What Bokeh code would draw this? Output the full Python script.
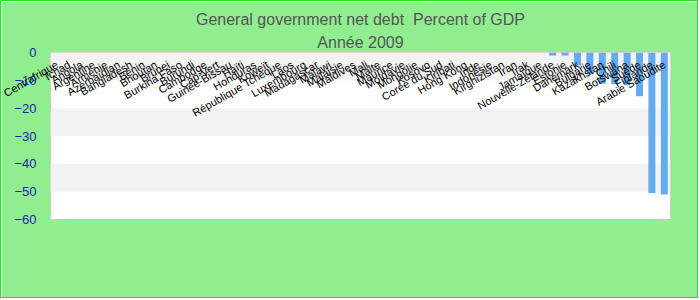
import math
from bokeh.plotting import figure
from bokeh.models import (ColumnDataSource, BoxAnnotation, Title, Range1d,
                          FixedTicker, LinearAxis)
from bokeh.embed import file_html
from bokeh.resources import INLINE

categories = [
    "Centrafrique", "Tchad", "Angola", "Argentine", "Arménie", "Azerbaïdjan",
    "Bangladesh", "Bénin", "Bhoutan", "Brunei", "Burkina Faso", "Burundi",
    "Cambodge", "Cap-Vert", "Guinée-Bissau", "Haïti", "Honduras", "Koweït",
    "République Tchèque", "Laos", "Luxembourg", "Madagascar", "Malawi",
    "Malaisie", "Maldives", "Mali", "Malte", "Maurice", "Moldavie", "Mongolie",
    "Kosovo", "Corée du Sud", "Kiribati", "Hong Kong", "Inde", "Indonésie",
    "Kirghizistan", "Iran", "Irak", "Jamaïque",
    "Nouvelle-Zélande", "Estonie", "Danemark", "Bulgarie", "Kazakhstan",
    "Chili", "Botswana", "Suède", "Finlande", "Arabie Saoudite",
]
values = [0.0] * 40 + [-1.1, -1.1, -4.7, -7.8, -11.2, -11.4, -11.8, -15.7, -50.5, -51.0]
y_ticks = [0, -10, -20, -30, -40, -50, -60]

FONT = "Liberation Sans"
n = len(categories)
positions = list(range(n))  # category index along the axis

src = ColumnDataSource(dict(pos=positions, cat=categories, val=values))

p = figure(
    x_range=Range1d(-0.5, n - 0.5),
    y_range=Range1d(-60, 0),
    width=698, height=298,
    output_backend="svg", toolbar_location=None,
    background_fill_color="white",
    border_fill_color="#90EE90",
    min_border_left=49, min_border_right=29, min_border_top=51, min_border_bottom=80,
    outline_line_color="#cccccc",
    title=None,
)
p.styles = {"border": "1px solid #22e022"}

# companion range for the label axis, shifted a little left like the original labels
p.extra_x_ranges = {"lab": Range1d(-0.52, n - 0.52)}

sub = Title(text="Année 2009", align="center", text_font_size="16px",
            text_font_style="normal", text_color="#555555", text_font=FONT,
            standoff=3, offset=-11)
main = Title(text="General government net debt\u00a0 Percent of GDP", align="center",
             text_font_size="16px", text_font_style="normal", text_color="#555555",
             text_font=FONT, standoff=6, offset=-11)
p.add_layout(sub, "above")
p.add_layout(main, "above")

for top, bottom in [(0, -10), (-20, -30), (-40, -50)]:
    p.add_layout(BoxAnnotation(top=top, bottom=bottom, fill_color="#f2f2f2",
                               fill_alpha=1, line_color=None, level="underlay"))

p.xgrid.grid_line_color = None
p.ygrid.grid_line_color = None
p.xaxis.visible = False

p.yaxis.ticker = FixedTicker(ticks=y_ticks)
p.yaxis.axis_line_color = None
p.yaxis.major_tick_line_color = None
p.yaxis.minor_tick_line_color = None
p.yaxis.major_label_text_color = "#2222aa"
p.yaxis.major_label_text_font_size = "13px"
p.yaxis.major_label_text_font = FONT
p.yaxis.major_label_standoff = 8

p.vbar(x="pos", top="val", bottom=0, width=0.56, source=src,
       fill_color="#64aaf0", line_color=None)

# category labels: a real axis whose rotated labels hang just under the zero line
cat_axis = LinearAxis(
    x_range_name="lab",
    ticker=FixedTicker(ticks=positions),
    major_label_overrides={i: name for i, name in zip(positions, categories)},
    major_label_orientation=math.pi / 6,
    axis_line_color=None, major_tick_line_color=None, minor_tick_line_color=None,
    major_tick_in=0, major_tick_out=0,
    major_label_standoff=-156,
    major_label_text_font_size="11px", major_label_text_font=FONT,
    major_label_text_color="black",
)
p.add_layout(cat_axis, "below")

open("out.html", "w").write(file_html(p, INLINE))
